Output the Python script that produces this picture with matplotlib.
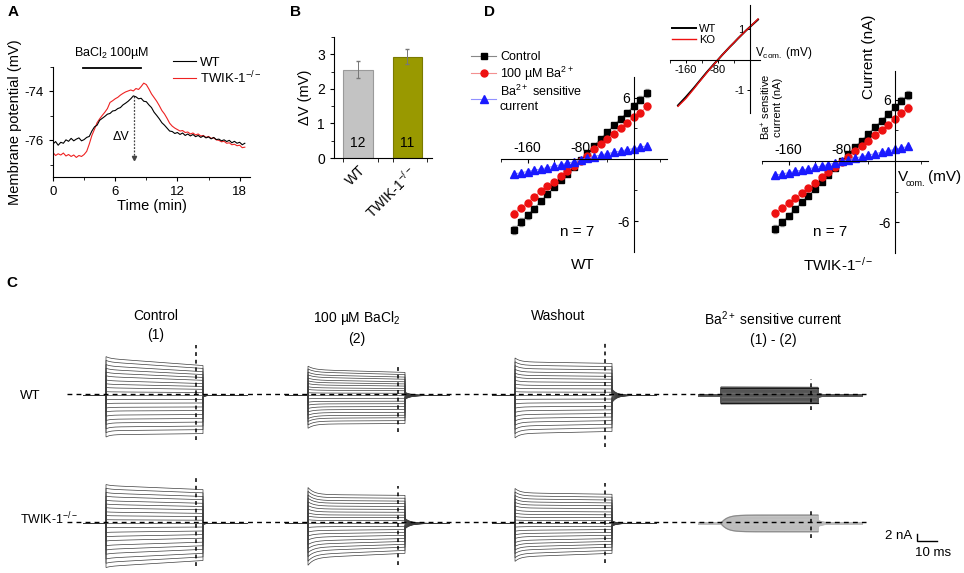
import numpy as np
import matplotlib.pyplot as plt
from matplotlib.lines import Line2D
from matplotlib.ticker import FixedLocator

plt.rcParams['font.family'] = ['Liberation Sans', 'DejaVu Sans']
plt.rcParams['mathtext.fontset'] = 'custom'
plt.rcParams['mathtext.rm'] = 'Liberation Sans'
plt.rcParams['mathtext.it'] = 'Liberation Sans:italic'
plt.rcParams['axes.unicode_minus'] = False

# ---------------- data ----------------
# panel A: membrane potential (mV) every 0.25 min
time_min = np.arange(0, 18.55, 0.25)
wt_vm = [-76.15, -76.05, -76.20, -76.08, -76.12, -75.98, -76.04, -75.92, -76.02, -75.95,
         -75.90, -76.02, -75.97, -75.88, -75.84, -75.62, -75.45, -75.38, -75.18, -75.10,
         -75.02, -74.93, -74.90, -74.80, -74.78, -74.70, -74.66, -74.55, -74.48, -74.40,
         -74.30, -74.18, -74.22, -74.30, -74.28, -74.40, -74.42, -74.55, -74.66, -74.85,
         -74.98, -75.12, -75.28, -75.38, -75.50, -75.62, -75.64, -75.72, -75.68, -75.76,
         -75.70, -75.80, -75.74, -75.82, -75.76, -75.85, -75.80, -75.88, -75.82, -75.90,
         -75.86, -75.94, -75.88, -75.97, -75.95, -76.02, -75.98, -76.05, -76.00, -76.10,
         -76.04, -76.12, -76.08, -76.18, -76.12]
ko_vm = [-76.50, -76.62, -76.55, -76.60, -76.52, -76.64, -76.58, -76.66, -76.60, -76.70,
         -76.62, -76.66, -76.58, -76.45, -76.15, -75.80, -75.55, -75.28, -75.12, -74.98,
         -74.85, -74.70, -74.45, -74.38, -74.30, -74.24, -74.15, -74.08, -74.02, -73.98,
         -73.94, -73.98, -73.88, -73.92, -73.80, -73.66, -73.72, -73.90, -74.10, -74.25,
         -74.40, -74.58, -74.78, -74.92, -75.10, -75.30, -75.42, -75.50, -75.56, -75.62,
         -75.60, -75.68, -75.66, -75.74, -75.70, -75.78, -75.74, -75.82, -75.80, -75.88,
         -75.84, -75.92, -75.90, -75.98, -76.00, -76.06, -76.04, -76.12, -76.10, -76.18,
         -76.16, -76.22, -76.20, -76.30, -76.28]
bacl2_on = [2.9, 8.5]
dv_time = 7.8

# panel B
genotypes = ['WT', r'TWIK-1$^{-/-}$']
dv_mean = [2.55, 2.93]
dv_sem = [0.25, 0.22]
n_cells = ['12', '11']

# panel D: I-V (nA) from -180 to +20 mV
v_cmd = np.arange(-180, 30, 10)
wt_ctrl = [-6.83, -6.08, -5.44, -4.79, -4.08, -3.40, -2.69, -2.04, -1.39, -0.74, -0.10,
           0.61, 1.29, 2.00, 2.65, 3.30, 3.95, 4.53, 5.18, 5.79, 6.44]
wt_ba = [-5.28, -4.69, -4.21, -3.66, -3.11, -2.62, -2.20, -1.65, -1.13, -0.65, -0.16,
         0.32, 0.97, 1.52, 2.01, 2.49, 3.01, 3.56, 4.11, 4.53, 5.15]
wt_sens = [-1.42, -1.30, -1.18, -1.05, -0.94, -0.80, -0.66, -0.52, -0.38, -0.22, -0.06,
           0.12, 0.27, 0.42, 0.55, 0.68, 0.81, 0.93, 1.05, 1.18, 1.32]
ko_ctrl = [-6.67, -5.99, -5.37, -4.69, -4.05, -3.40, -2.75, -2.04, -1.39, -0.70, -0.05,
           0.65, 1.36, 2.00, 2.65, 3.30, 3.95, 4.60, 5.24, 5.89, 6.47]
ko_ba = [-5.11, -4.63, -4.08, -3.66, -3.17, -2.69, -2.20, -1.55, -1.07, -0.58, -0.10,
         0.35, 0.97, 1.50, 2.00, 2.50, 3.02, 3.55, 4.10, 4.65, 5.18]
ko_sens = [-1.39, -1.27, -1.15, -1.02, -0.90, -0.77, -0.63, -0.50, -0.35, -0.20, -0.05,
           0.12, 0.28, 0.43, 0.57, 0.71, 0.85, 0.99, 1.13, 1.28, 1.42]
ctrl_err = [0.40, 0.36, 0.32, 0.28, 0.25, 0.22, 0.20, 0.17, 0.15, 0.12, 0.10,
            0.12, 0.15, 0.17, 0.20, 0.22, 0.25, 0.28, 0.30, 0.34, 0.38]
ba_err = [0.34, 0.30, 0.27, 0.24, 0.22, 0.20, 0.18, 0.15, 0.13, 0.11, 0.10,
          0.11, 0.13, 0.15, 0.18, 0.20, 0.22, 0.25, 0.28, 0.31, 0.35]
sens_err = [0.12, 0.11, 0.10, 0.10, 0.09, 0.08, 0.08, 0.07, 0.06, 0.06, 0.05,
            0.06, 0.06, 0.07, 0.08, 0.08, 0.09, 0.10, 0.10, 0.11, 0.12]
# inset: Ba-sensitive ramp current (nA)
ramp_wt = [-1.50, -1.36, -1.22, -1.07, -0.92, -0.76, -0.60, -0.44, -0.29, -0.14, 0.0,
           0.15, 0.29, 0.43, 0.56, 0.70, 0.83, 0.96, 1.08, 1.20, 1.32]
ramp_ko = [-1.53, -1.40, -1.27, -1.11, -0.95, -0.78, -0.62, -0.46, -0.30, -0.15, 0.0,
           0.15, 0.29, 0.43, 0.57, 0.70, 0.83, 0.96, 1.08, 1.21, 1.34]

# panel C: steady-state current (nA) at end of each step, -180..+20 mV
conditions = ['Control\n(1)', '100 \u00b5M BaCl$_2$\n(2)', 'Washout',
              'Ba$^{2+}$ sensitive current\n(1) - (2)']
wt_steps = [
    [-10.6, -9.5, -8.5, -7.4, -6.4, -5.3, -4.2, -3.2, -2.1, -1.1, 0.0,
     0.8, 1.7, 2.5, 3.3, 4.2, 5.0, 5.8, 6.6, 7.5, 8.3],
    [-7.8, -7.0, -6.2, -5.5, -4.7, -3.9, -3.1, -2.3, -1.6, -0.8, 0.0,
     0.6, 1.3, 1.9, 2.6, 3.2, 3.8, 4.5, 5.1, 5.8, 6.4],
    [-10.0, -9.0, -8.0, -7.0, -6.0, -5.0, -4.0, -3.0, -2.0, -1.0, 0.0,
     0.9, 1.8, 2.7, 3.6, 4.5, 5.3, 6.2, 7.1, 8.0, 8.9],
    [-2.2, -2.0, -1.8, -1.5, -1.3, -1.1, -0.9, -0.7, -0.4, -0.2, 0.0,
     0.2, 0.4, 0.7, 0.9, 1.1, 1.3, 1.5, 1.8, 2.0, 2.2],
]
ko_steps = [
    [-10.3, -9.3, -8.3, -7.2, -6.2, -5.2, -4.1, -3.1, -2.1, -1.0, 0.0,
     0.9, 1.9, 2.8, 3.8, 4.7, 5.6, 6.6, 7.5, 8.5, 9.4],
    [-8.3, -7.5, -6.6, -5.8, -5.0, -4.2, -3.3, -2.5, -1.7, -0.8, 0.0,
     0.8, 1.6, 2.3, 3.1, 3.9, 4.7, 5.5, 6.2, 7.0, 7.8],
    [-8.3, -7.5, -6.6, -5.8, -5.0, -4.2, -3.3, -2.5, -1.7, -0.8, 0.0,
     0.8, 1.6, 2.4, 3.2, 4.1, 4.9, 5.7, 6.5, 7.3, 8.1],
    [-2.3, -2.1, -1.8, -1.6, -1.4, -1.2, -0.9, -0.7, -0.5, -0.2, 0.0,
     0.2, 0.5, 0.7, 0.9, 1.2, 1.4, 1.6, 1.8, 2.1, 2.3],
]
# trace shape per panel: onset overshoot, tau, drift (+ / -), tail size, tau
wt_shape = [(0.06, 2.0, 0.24, 0.03, 0.05, 1.0), (0.15, 3.0, 0.12, 0.02, 0.14, 3.0),
            (0.12, 2.5, 0.05, 0.06, 0.20, 2.5), (0.0, 1.0, 0.05, 0.05, 0.25, 2.5)]
ko_shape = [(0.03, 2.0, 0.12, 0.16, 0.03, 1.0), (0.25, 3.0, 0.03, 0.15, 0.18, 3.0),
            (0.15, 2.5, 0.05, 0.12, 0.10, 2.0), (-1.0, 3.0, 0.0, 0.0, 0.35, 3.0)]
wt_dash = [(13.6, -12.8), (7.5, -10.6), (14.2, -14.7), (4.2, -4.4)]
ko_dash = [(12.2, -12.2), (10.0, -12.0), (10.8, -11.4), (3.9, -4.4)]
hold_nA = -0.4
step_ms = 48.5

W, H = 964, 573
fig = plt.figure(figsize=(W / 100, H / 100), dpi=100)


def px_axes(l, t, r, b):
    return fig.add_axes([l / W, 1 - b / H, (r - l) / W, (b - t) / H])


def ftext(x, y, s, **kw):
    fig.text(x / W, 1 - y / H, s, **kw)


for lab, x, y in [('A', 8, 12), ('B', 290, 12), ('D', 484, 12), ('C', 6, 283)]:
    ftext(x, y, lab, fontsize=11, fontweight='bold', va='center')

# ---------------- A ----------------
axA = px_axes(53, 67, 250, 177)
axA.plot(time_min, ko_vm, color='#ee2222', lw=0.8, label=r'TWIK-1$^{-/-}$', zorder=2)
axA.plot(time_min, wt_vm, color='black', lw=0.8, label='WT', zorder=3)
axA.set_xlim(0, 19)
axA.set_ylim(-77.5, -73)
axA.set_xticks([0, 6, 12, 18])
axA.xaxis.set_minor_locator(FixedLocator([3, 9, 15]))
axA.set_yticks([-76, -74])
axA.yaxis.set_minor_locator(FixedLocator([-77, -75, -73]))
for s in ['top', 'right']:
    axA.spines[s].set_visible(False)
axA.tick_params(labelsize=9.5, length=3, width=0.8)
axA.tick_params(which='minor', length=2)
axA.set_xlabel('Time (min)', fontsize=10.5, labelpad=1)
axA.set_ylabel('Membrane potential (mV)', fontsize=10.5, labelpad=2)
axA.plot(bacl2_on, [-73.05, -73.05], color='black', lw=1.3, clip_on=False)
axA.text(np.mean(bacl2_on), -72.75, 'BaCl$_2$ 100\u00b5M', ha='center', va='bottom', fontsize=9)
peak = wt_vm[int(round(dv_time / 0.25))]
axA.plot([dv_time, dv_time], [peak, -76.7], ls=(0, (1.5, 1.2)), color='#444', lw=0.9)
axA.plot([dv_time], [-76.72], marker='v', ms=3, color='#444')
axA.text(dv_time - 0.4, -75.85, '\u0394V', ha='right', va='center', fontsize=9)
h, l = axA.get_legend_handles_labels()
axA.legend(h[::-1], l[::-1], loc='upper left', bbox_to_anchor=(166 / W, 1 - 50 / H),
           bbox_transform=fig.transFigure, frameon=False, fontsize=9.5,
           handlelength=1.8, handletextpad=0.3, labelspacing=0.05, borderpad=0)

# ---------------- B ----------------
axB = px_axes(334, 37, 432, 158)
xb = np.arange(len(genotypes))
axB.bar(xb, dv_mean, width=0.6, color=['#c3c3c3', '#999900'],
        edgecolor=['#9a9a9a', '#7a7a00'], linewidth=0.8,
        yerr=dv_sem, error_kw=dict(ecolor='#777', elinewidth=0.7, capsize=1.5))
for xi, nn in zip(xb, n_cells):
    axB.text(xi, 0.43, nn, ha='center', va='center', fontsize=10)
axB.set_xlim(-0.485, 1.495)
axB.set_ylim(0, 3.5)
axB.set_yticks([0, 1, 2, 3])
axB.yaxis.set_minor_locator(FixedLocator([0.5, 1.5, 2.5, 3.5]))
axB.set_xticks(xb)
axB.set_xticklabels(genotypes, rotation=45, ha='right', va='top', rotation_mode='anchor')
axB.xaxis.set_minor_locator(FixedLocator([-0.3, 0.4, 0.7, 1.4]))
for s in ['top', 'right']:
    axB.spines[s].set_visible(False)
axB.tick_params(labelsize=10, length=3, width=0.8)
axB.tick_params(axis='x', length=0)
axB.tick_params(axis='x', which='minor', length=3)
axB.set_ylabel('\u0394V (mV)', fontsize=10.5, labelpad=4)

# ---------------- D ----------------


def draw_iv(ax, ctrl, ba, sens, ylim):
    ax.errorbar(v_cmd, ctrl, yerr=ctrl_err, fmt='none', ecolor='#999', elinewidth=0.6, capsize=1.2)
    ax.errorbar(v_cmd, ba, yerr=ba_err, fmt='none', ecolor='#f0a0a0', elinewidth=0.6, capsize=1.2)
    ax.errorbar(v_cmd, sens, yerr=sens_err, fmt='none', ecolor='#a0a0ff', elinewidth=0.6, capsize=1.2)
    ax.plot(v_cmd, ctrl, color='#888', lw=0.8, marker='s', ms=4.3, mfc='black', mec='black', label='Control')
    ax.plot(v_cmd, ba, color='#f39090', lw=0.8, marker='o', ms=5, mfc='#ee1111', mec='#ee1111',
            label='100 \u00b5M Ba$^{2+}$')
    ax.plot(v_cmd, sens, color='#9090ff', lw=0.8, marker='^', ms=5.3, mfc='#1a1aff', mec='#1a1aff',
            label='Ba$^{2+}$ sensitive\ncurrent')
    ax.set_xlim(-200, 50)
    ax.set_ylim(*ylim)
    ax.spines['left'].set_position(('data', 0))
    ax.spines['top'].set_position(('data', 0))
    ax.spines['right'].set_visible(False)
    ax.spines['bottom'].set_visible(False)
    ax.xaxis.set_ticks_position('top')
    ax.yaxis.set_ticks_position('left')
    ax.set_xticks([-160, -80])
    ax.xaxis.set_minor_locator(FixedLocator([-200, -120, -40, 40]))
    ax.set_yticks([-6, 6])
    ax.yaxis.set_minor_locator(FixedLocator([-3, 3]))
    ax.tick_params(labelsize=10, length=3, width=0.8, direction='in', pad=3)
    ax.tick_params(which='minor', length=2, direction='in')
    ax.patch.set_alpha(0)


axD1 = px_axes(501, 77, 667, 252)
draw_iv(axD1, wt_ctrl, wt_ba, wt_sens, (-9, 8))
axD2 = px_axes(762, 71, 928, 253)
draw_iv(axD2, ko_ctrl, ko_ba, ko_sens, (-9, 8.8))

h, l = axD1.get_legend_handles_labels()
fig.legend(h, l, loc='upper left', bbox_to_anchor=(465 / W, 1 - 45 / H), frameon=False,
           fontsize=9, handlelength=2.0, handletextpad=0.3, labelspacing=0.1, borderpad=0)

ftext(577, 232, 'n = 7', ha='center', va='center', fontsize=11)
ftext(830, 232, 'n = 7', ha='center', va='center', fontsize=11)
ftext(583, 265, 'WT', ha='center', va='center', fontsize=11)
ftext(838, 265, r'TWIK-1$^{-/-}$', ha='center', va='center', fontsize=11)
ftext(869, 57, 'Current (nA)', ha='center', va='center', rotation=90, fontsize=11)
# V_com. (mV) axis label, built from pieces so it fits inside the figure
ftext(898, 177, 'V', ha='left', va='center', fontsize=11)
ftext(906, 183, 'com.', ha='left', va='center', fontsize=6.5)
ftext(928, 177, '(mV)', ha='left', va='center', fontsize=11)

# inset
axI = px_axes(670, 5, 760, 113)
axI.plot(v_cmd, ramp_wt, color='black', lw=1.4, label='WT')
axI.plot(v_cmd, ramp_ko, color='#ee1111', lw=1.0, label='KO')
axI.set_xlim(-200, 25)
axI.set_ylim(-1.75, 1.8)
axI.spines['left'].set_position(('data', 0))
axI.spines['bottom'].set_position(('data', 0))
axI.spines['right'].set_visible(False)
axI.spines['top'].set_visible(False)
axI.set_xticks([-160, -80])
axI.xaxis.set_minor_locator(FixedLocator([-200, -120, -40]))
axI.set_yticks([-1, 1])
axI.tick_params(labelsize=8, length=2.5, width=0.7, pad=1.5)
axI.tick_params(which='minor', length=2)
axI.patch.set_alpha(0)
axI.legend(loc='upper left', bbox_to_anchor=(666 / W, 1 - 18 / H), bbox_transform=fig.transFigure,
           frameon=False, fontsize=8, handlelength=2.2, handletextpad=0.3, labelspacing=0.1, borderpad=0)
ftext(755, 53, r'V$_{\rm com.}$ (mV)', ha='left', va='center', fontsize=8.5)
ftext(771, 74, 'Ba$^{+}$ sensitive\ncurrent (nA)', ha='center', va='top', rotation=90, fontsize=8,
      linespacing=1.0)

# ---------------- C ----------------
col_x0 = [106, 308, 515, 721]
row_y0 = [394, 522]
title_x = [156, 357, 558, 773]
for tx, title in zip(title_x, conditions):
    ftext(tx, 309, title, ha='center', va='top', fontsize=10, linespacing=1.45)
ftext(20, 396, 'WT', ha='left', va='center', fontsize=9.5)
ftext(20, 519, r'TWIK-1$^{-/-}$', ha='left', va='center', fontsize=9)

t_step = np.linspace(0, step_ms, 250)
t_post = np.linspace(step_ms, 71, 200)
for y0, steps, shapes, dashes in [(row_y0[0], wt_steps, wt_shape, wt_dash),
                                  (row_y0[1], ko_steps, ko_shape, ko_dash)]:
    for j, x0 in enumerate(col_x0):
        ax = px_axes(x0 - 23, y0 - 57.6, x0 + 142, y0 + 57.6)
        ax.set_xlim(-11.5, 71)
        ax.set_ylim(-16, 16)
        ax.axis('off')
        over, tau_on, dpos, dneg, tail, tau_tail = shapes[j]
        if j < 3:
            col, lw = '#3c3c3c', 0.5
        elif y0 == row_y0[0]:
            col, lw = '#555555', 1.0
        else:
            col, lw = '#bdbdbd', 1.0
        for amp in steps[j]:
            drift = dpos if amp > 0 else dneg
            i_step = hold_nA + amp * (1 + drift * (1 - t_step / step_ms)) + amp * over * np.exp(-t_step / tau_on)
            i_post = hold_nA + amp * tail * np.exp(-(t_post - step_ms) / tau_tail)
            tt = np.concatenate([[-11.5], t_step, t_post])
            ii = np.concatenate([[hold_nA], i_step, i_post])
            tt = np.insert(tt, 1, 0.0)
            ii = np.insert(ii, 1, hold_nA)
            ax.plot(tt, ii, color=col, lw=lw, solid_joinstyle='miter')
        if j == 3:
            edge = '#1a1a1a' if y0 == row_y0[0] else '#8a8a8a'
            for amp in [steps[j][0], steps[j][-1]]:
                i_step = hold_nA + amp * (1 + over * np.exp(-t_step / tau_on))
                ax.plot(t_step, i_step, color=edge, lw=0.8)
        ax.plot([45, 45], [dashes[j][1], dashes[j][0]], ls=(0, (2.5, 2.5)), color='black', lw=1.1)
    fig.add_artist(Line2D([67 / W, 866 / W], [1 - y0 / H, 1 - y0 / H], ls=(0, (3.5, 3)),
                          color='black', lw=1.0, zorder=10))

# scale bar: 2 nA / 10 ms on the same scales as the traces
axS = px_axes(917, 541 - 36, 957, 541)
axS.set_xlim(0, 20)
axS.set_ylim(0, 10)
axS.axis('off')
axS.plot([0, 0, 10], [2, 0, 0], color='black', lw=1.0, solid_joinstyle='miter', clip_on=False)
ftext(912, 536, '2 nA', ha='right', va='center', fontsize=9.5)
ftext(933, 553, '10 ms', ha='center', va='center', fontsize=9.5)

fig.savefig('out.png', dpi=100)
